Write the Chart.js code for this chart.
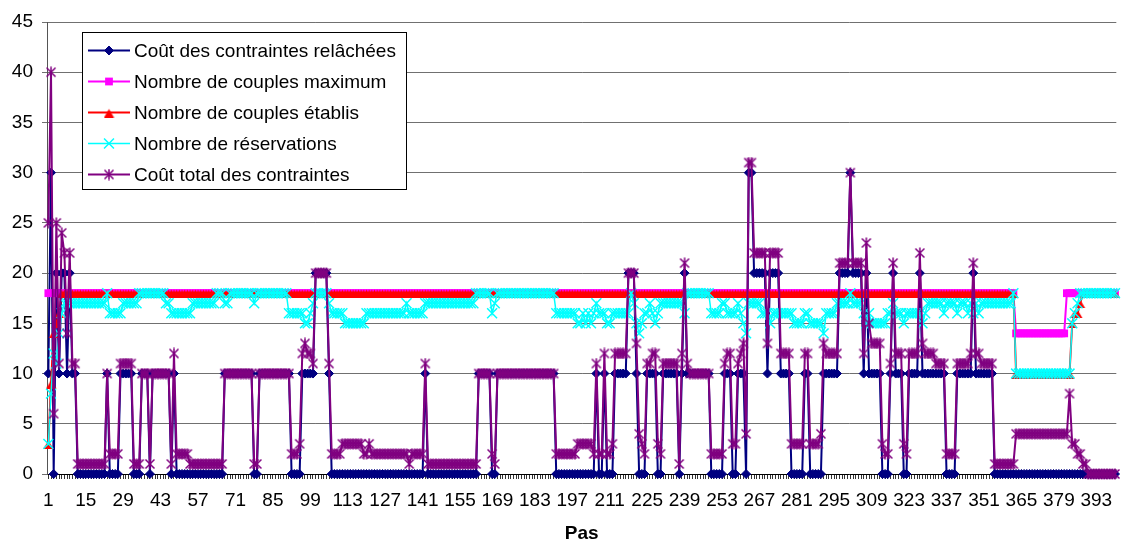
<!DOCTYPE html>
<html>
<head>
<meta charset="utf-8">
<title>Pas</title>
<script src="https://cdn.jsdelivr.net/npm/chart.js@4.4.1/dist/chart.umd.min.js"></script>
<style>
  html, body { margin: 0; padding: 0; background: #fff; }
  canvas { display: block; }
</style>
</head>
<body>
<canvas id="myChart" width="1125" height="545"></canvas>
<script>
// steps 1..400 on the x axis
const pas = Array.from({ length: 400 }, (_, i) => String(i + 1));
const tickLabels = ["1","15","29","43","57","71","85","99","113","127","141","155","169","183",
  "197","211","225","239","253","267","281","295","309","323","337","351","365","379","393"];

// Coût des contraintes relâchées
const coutRelache = [
  10,30,0,20,10,20,20,10,20,10,10,0,0,0,0,0,0,0,0,0,
  0,0,10,0,0,0,0,10,10,10,10,10,0,0,0,10,10,10,0,10,
  10,10,10,10,10,10,0,10,0,0,0,0,0,0,0,0,0,0,0,0,
  0,0,0,0,0,0,10,10,10,10,10,10,10,10,10,10,10,0,0,10,
  10,10,10,10,10,10,10,10,10,10,10,0,0,0,0,10,10,10,10,10,
  20,20,20,20,20,10,0,0,0,0,0,0,0,0,0,0,0,0,0,0,
  0,0,0,0,0,0,0,0,0,0,0,0,0,0,0,0,0,0,0,0,
  0,10,0,0,0,0,0,0,0,0,0,0,0,0,0,0,0,0,0,0,
  0,10,10,10,10,10,0,0,10,10,10,10,10,10,10,10,10,10,10,10,
  10,10,10,10,10,10,10,10,10,10,0,0,0,0,0,0,0,0,0,0,
  0,0,0,0,0,10,0,0,10,0,0,0,10,10,10,10,10,20,20,20,
  10,0,0,0,10,10,10,10,0,0,10,10,10,10,10,10,0,10,20,10,
  10,10,10,10,10,10,10,10,0,0,0,0,0,10,10,10,0,0,10,10,
  10,0,30,30,20,20,20,20,20,10,20,20,20,20,10,10,10,10,0,0,
  0,0,0,10,10,0,0,0,0,0,10,10,10,10,10,10,20,20,20,20,
  30,20,20,20,20,10,20,10,10,10,10,10,0,0,0,10,20,10,10,10,
  0,0,10,10,10,10,20,10,10,10,10,10,10,10,10,10,0,0,0,0,
  10,10,10,10,10,10,20,10,10,10,10,10,10,10,0,0,0,0,0,0,
  0,0,0,0,0,0,0,0,0,0,0,0,0,0,0,0,0,0,0,0,
  0,0,0,0,0,0,0,0,0,0,0,0,0,0,0,0,0,0,0,0
];

// Nombre de couples maximum
const couplesMax = [
  18,18,18,18,18,18,18,18,18,18,18,18,18,18,18,18,18,18,18,18,
  18,18,18,18,18,18,18,18,18,18,18,18,18,18,18,18,18,18,18,18,
  18,18,18,18,18,18,18,18,18,18,18,18,18,18,18,18,18,18,18,18,
  18,18,18,18,18,18,18,18,18,18,18,18,18,18,18,18,18,18,18,18,
  18,18,18,18,18,18,18,18,18,18,18,18,18,18,18,18,18,18,18,18,
  18,18,18,18,18,18,18,18,18,18,18,18,18,18,18,18,18,18,18,18,
  18,18,18,18,18,18,18,18,18,18,18,18,18,18,18,18,18,18,18,18,
  18,18,18,18,18,18,18,18,18,18,18,18,18,18,18,18,18,18,18,18,
  18,18,18,18,18,18,18,18,18,18,18,18,18,18,18,18,18,18,18,18,
  18,18,18,18,18,18,18,18,18,18,18,18,18,18,18,18,18,18,18,18,
  18,18,18,18,18,18,18,18,18,18,18,18,18,18,18,18,18,18,18,18,
  18,18,18,18,18,18,18,18,18,18,18,18,18,18,18,18,18,18,18,18,
  18,18,18,18,18,18,18,18,18,18,18,18,18,18,18,18,18,18,18,18,
  18,18,18,18,18,18,18,18,18,18,18,18,18,18,18,18,18,18,18,18,
  18,18,18,18,18,18,18,18,18,18,18,18,18,18,18,18,18,18,18,18,
  18,18,18,18,18,18,18,18,18,18,18,18,18,18,18,18,18,18,18,18,
  18,18,18,18,18,18,18,18,18,18,18,18,18,18,18,18,18,18,18,18,
  18,18,18,18,18,18,18,18,18,18,18,18,18,18,18,18,18,18,18,18,
  18,18,14,14,14,14,14,14,14,14,14,14,14,14,14,14,14,14,14,14,
  14,18,18,18,18,18,18,18,18,18,18,18,18,18,18,18,18,18,18,18
];

// Nombre de couples établis
const couplesEtablis = [
  3,9,14,15,16,18,18,18,18,18,18,18,18,18,18,18,18,18,18,18,
  18,18,18,18,18,18,18,18,18,18,18,18,18,18,18,18,18,18,18,18,
  18,18,18,18,18,18,18,18,18,18,18,18,18,18,18,18,18,18,18,18,
  18,18,18,18,18,18,18,18,18,18,18,18,18,18,18,18,18,18,18,18,
  18,18,18,18,18,18,18,18,18,18,18,18,18,18,18,18,18,18,18,18,
  18,18,18,18,18,18,18,18,18,18,18,18,18,18,18,18,18,18,18,18,
  18,18,18,18,18,18,18,18,18,18,18,18,18,18,18,18,18,18,18,18,
  18,18,18,18,18,18,18,18,18,18,18,18,18,18,18,18,18,18,18,18,
  18,18,18,18,18,18,18,18,18,18,18,18,18,18,18,18,18,18,18,18,
  18,18,18,18,18,18,18,18,18,18,18,18,18,18,18,18,18,18,18,18,
  18,18,18,18,18,18,18,18,18,18,18,18,18,18,18,18,18,18,18,18,
  18,18,18,18,18,18,18,18,18,18,18,18,18,18,18,18,18,18,18,18,
  18,18,18,18,18,18,18,18,18,18,18,18,18,18,18,18,18,18,18,18,
  18,18,18,18,18,18,18,18,18,18,18,18,18,18,18,18,18,18,18,18,
  18,18,18,18,18,18,18,18,18,18,18,18,18,18,18,18,18,18,18,18,
  18,18,18,18,18,18,18,18,18,18,18,18,18,18,18,18,18,18,18,18,
  18,18,18,18,18,18,18,18,18,18,18,18,18,18,18,18,18,18,18,18,
  18,18,18,18,18,18,18,18,18,18,18,18,18,18,18,18,18,18,18,18,
  18,18,10,10,10,10,10,10,10,10,10,10,10,10,10,10,10,10,10,10,
  10,10,10,15,16,16,17,18,18,18,18,18,18,18,18,18,18,18,18,18
];

// Nombre de réservations
const reservations = [
  3,8,12,11,14,16,17,17,17,17,17,17,17,17,17,17,17,17,17,17,
  17,17,18,16,16,16,16,16,17,17,17,17,17,17,18,18,18,18,18,18,
  18,18,18,18,17,17,16,16,16,16,16,16,16,16,17,17,17,17,17,17,
  17,17,17,18,18,18,17,17,18,18,18,18,18,18,18,18,18,17,18,18,
  18,18,18,18,18,18,18,18,18,18,16,16,16,16,16,16,15,15,16,17,
  18,18,18,18,18,17,16,16,16,16,16,15,15,15,15,15,15,15,15,16,
  16,16,16,16,16,16,16,16,16,16,16,16,16,16,17,16,16,16,16,16,
  16,17,17,17,17,17,17,17,17,17,17,17,17,17,17,17,17,17,17,17,
  18,18,18,18,18,18,16,17,18,18,18,18,18,18,18,18,18,18,18,18,
  18,18,18,18,18,18,18,18,18,18,16,16,16,16,16,16,16,16,15,15,
  16,15,16,15,16,17,16,16,16,15,15,16,16,16,16,16,16,16,18,17,
  15,14,15,16,16,17,16,15,16,17,17,17,17,17,17,17,17,17,16,18,
  18,18,18,18,18,18,18,18,16,16,16,16,17,17,16,16,16,16,17,16,
  15,14,17,17,17,17,17,16,16,16,15,16,16,16,16,16,16,16,16,15,
  15,15,15,16,16,15,15,15,15,15,14,16,16,16,16,17,17,17,17,17,
  18,17,17,17,17,16,15,16,15,15,15,15,15,15,16,16,17,16,16,16,
  15,16,16,16,16,16,16,15,16,17,17,17,17,17,17,16,17,17,17,17,
  16,17,17,17,16,17,16,17,16,17,17,17,17,17,17,17,17,17,17,17,
  17,18,10,10,10,10,10,10,10,10,10,10,10,10,10,10,10,10,10,10,
  10,10,10,15,16,17,18,18,18,18,18,18,18,18,18,18,18,18,18,18
];

// Coût total des contraintes
const coutTotal = [
  25,40,6,25,11,24,22,14,22,11,11,1,1,1,1,1,1,1,1,1,
  1,1,10,2,2,2,2,11,11,11,11,11,1,1,1,10,10,10,1,10,
  10,10,10,10,10,10,1,12,2,2,2,2,2,1,1,1,1,1,1,1,
  1,1,1,1,1,1,10,10,10,10,10,10,10,10,10,10,10,1,1,10,
  10,10,10,10,10,10,10,10,10,10,10,2,2,2,3,12,13,12,12,11,
  20,20,20,20,20,11,2,2,2,2,3,3,3,3,3,3,3,3,2,2,
  3,2,2,2,2,2,2,2,2,2,2,2,2,2,2,1,2,2,2,2,
  2,11,1,1,1,1,1,1,1,1,1,1,1,1,1,1,1,1,1,1,
  1,10,10,10,10,10,2,1,10,10,10,10,10,10,10,10,10,10,10,10,
  10,10,10,10,10,10,10,10,10,10,2,2,2,2,2,2,2,2,3,3,
  3,3,3,3,2,11,2,2,12,2,2,3,12,12,12,12,12,20,20,20,
  13,4,3,2,11,11,12,12,3,2,11,11,11,11,11,11,1,12,21,11,
  10,10,10,10,10,10,10,10,2,2,2,2,2,11,12,12,3,3,11,12,
  13,4,31,31,22,22,22,22,22,13,22,22,22,22,12,12,12,12,3,3,
  3,3,3,12,12,3,3,3,3,4,13,12,12,12,12,12,21,21,21,21,
  30,21,21,21,21,12,23,15,13,13,13,13,3,2,2,11,21,12,12,12,
  3,2,12,12,12,12,22,13,12,12,12,12,11,11,11,11,2,2,2,2,
  11,11,11,11,11,12,21,12,12,11,11,11,11,11,1,1,1,1,1,1,
  1,1,4,4,4,4,4,4,4,4,4,4,4,4,4,4,4,4,4,4,
  4,4,8,3,3,2,2,1,1,0,0,0,0,0,0,0,0,0,0,0
];

const FONT = "'Liberation Sans', Arial, sans-serif";
Chart.defaults.font.family = FONT;
Chart.defaults.color = '#000';

// excel-like markers drawn on small canvases
function triangleMarker(color) {
  const c = document.createElement('canvas');
  c.width = 11; c.height = 10;
  const g = c.getContext('2d');
  g.fillStyle = color;
  g.beginPath();
  g.moveTo(5.5, 1.5); g.lineTo(10.5, 10); g.lineTo(0.5, 10);
  g.closePath();
  g.fill();
  return c;
}
function starMarker(color) {
  const c = document.createElement('canvas');
  c.width = 12; c.height = 12;
  const g = c.getContext('2d');
  g.strokeStyle = color;
  g.lineWidth = 1.5;
  g.beginPath();
  g.moveTo(1.5, 1.5); g.lineTo(10.5, 10.5);
  g.moveTo(10.5, 1.5); g.lineTo(1.5, 10.5);
  g.moveTo(6, 0.5); g.lineTo(6, 11.5);
  g.stroke();
  return c;
}

const legendBox = {
  id: 'legendBox',
  afterDraw(chart) {
    const ctx = chart.ctx;
    ctx.save();
    ctx.fillStyle = '#fff';
    ctx.fillRect(82.5, 32.5, 324, 157);
    ctx.strokeStyle = '#000';
    ctx.lineWidth = 1;
    ctx.strokeRect(82.5, 32.5, 324, 157);
    ctx.font = '19px ' + FONT;
    ctx.textBaseline = 'middle';
    chart.data.datasets.forEach((ds, k) => {
      const y = 50.5 + k * 31;
      ctx.strokeStyle = ds.borderColor;
      ctx.lineWidth = ds.borderWidth;
      ctx.beginPath(); ctx.moveTo(88, y); ctx.lineTo(130, y); ctx.stroke();
      ctx.fillStyle = ds.pointBackgroundColor;
      ctx.strokeStyle = ds.pointBorderColor;
      ctx.lineWidth = ds.pointBorderWidth;
      Chart.helpers.drawPoint(ctx, { pointStyle: ds.pointStyle, radius: ds.pointRadius, rotation: 0, borderWidth: ds.pointBorderWidth }, 109, y);
      ctx.fillStyle = '#000';
      ctx.fillText(ds.label, 134, y + 1);
    });
    ctx.restore();
  }
};

new Chart(document.getElementById('myChart'), {
  type: 'line',
  data: {
    labels: pas,
    datasets: [
      { label: 'Coût des contraintes relâchées', data: coutRelache, order: 5, clip: false,
        borderColor: '#000080', borderWidth: 2,
        pointStyle: 'rectRot', pointRadius: 4.5, pointBorderWidth: 1,
        pointBackgroundColor: '#000080', pointBorderColor: '#000080' },
      { label: 'Nombre de couples maximum', data: couplesMax, order: 4, clip: false,
        borderColor: '#ff00ff', borderWidth: 2,
        pointStyle: 'rect', pointRadius: 5.5, pointBorderWidth: 0,
        pointBackgroundColor: '#ff00ff', pointBorderColor: '#ff00ff' },
      { label: 'Nombre de couples établis', data: couplesEtablis, order: 3, clip: false,
        borderColor: '#ff0000', borderWidth: 2,
        pointStyle: triangleMarker('#ff0000'), pointRadius: 5, pointBorderWidth: 0,
        pointBackgroundColor: '#ff0000', pointBorderColor: '#ff0000' },
      { label: 'Nombre de réservations', data: reservations, order: 2, clip: false,
        borderColor: '#00ffff', borderWidth: 1.5,
        pointStyle: 'crossRot', pointRadius: 7, pointBorderWidth: 1.5,
        pointBackgroundColor: '#00ffff', pointBorderColor: '#00ffff' },
      { label: 'Coût total des contraintes', data: coutTotal, order: 1, clip: false,
        borderColor: '#800080', borderWidth: 2,
        pointStyle: starMarker('#800080'), pointRadius: 5, pointBorderWidth: 1.5,
        pointBackgroundColor: '#800080', pointBorderColor: '#800080' }
    ]
  },
  options: {
    responsive: false,
    animation: false,
    events: [],
    tension: 0,
    layout: { padding: { top: 22, right: 0, bottom: 0, left: 0 } },
    plugins: { legend: { display: false }, tooltip: { enabled: false } },
    scales: {
      x: {
        offset: true,
        grid: { display: true, drawOnChartArea: false, drawTicks: true, tickLength: 5, color: '#333', lineWidth: 1 },
        border: { display: true, color: '#000', width: 1 },
        ticks: {
          autoSkip: false, maxRotation: 0, minRotation: 0, padding: 10, color: '#000',
          font: { size: 19 },
          callback: (v, i) => tickLabels.includes(pas[i]) ? pas[i] : ''
        },
        title: { display: true, text: 'Pas', color: '#000', font: { size: 19, weight: 'bold' }, padding: 0 },
        afterFit: (s) => { s.height = 71; }
      },
      y: {
        min: 0, max: 45,
        ticks: { stepSize: 5, padding: 9, color: '#000', font: { size: 19 } },
        grid: { color: '#707070', lineWidth: 1, tickLength: 5, drawTicks: true },
        border: { display: true, color: '#555', width: 1 },
        afterFit: (s) => { s.width = 47; }
      }
    }
  },
  plugins: [legendBox]
});
</script>
</body>
</html>
